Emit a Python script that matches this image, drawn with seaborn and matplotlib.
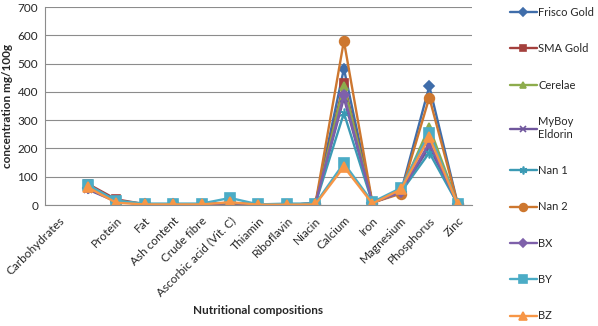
import numpy as np
import pandas as pd
import matplotlib
matplotlib.use("Agg")
import matplotlib.pyplot as plt
import seaborn as sns

categories = ["Carbohydrates", "", "Protein", "Fat", "Ash content", "Crude fibre",
              "Ascorbic acid (Vit. C)", "Thiamin", "Riboflavin", "Niacin",
              "Calcium", "Iron", "Magnesium", "Phosphorus", "Zinc"]

nan = np.nan
frisco_gold = [nan, 60, 15, 3, 2, 1, 8, 0.5, 1, 5, 482, 8, 45, 420, 3]
sma_gold    = [nan, 75, 20, 3, 2, 1, 8, 0.5, 1, 5, 432, 10, 50, 250, 3]
cerelae     = [nan, 65, 15, 3, 2, 0, 5, 0.5, 1, 5, 422, 10, 50, 276, 3]
myboy       = [nan, 55, 12, 3, 2, 1, 8, 0.5, 1, 5, 378, 8, 45, 205, 3]
nan_1       = [nan, 60, 12, 3, 2, 1, 8, 0.5, 1, 5, 325, 8, 45, 185, 3]
nan_2       = [nan, 65, 12, 3, 2, 1, 8, 0.5, 1, 5, 580, 8, 40, 380, 3]
bx          = [nan, 60, 12, 3, 2, 1, 8, 0.5, 1, 5, 390, 8, 45, 220, 3]
by          = [nan, 72, 15, 5, 5, 5, 25, 2, 5, 5, 148, 10, 60, 255, 2]
bz          = [nan, 63, 8, 2, 2, 2, 10, 1, 1, 2, 135, 5, 55, 240, 2]

series_names = ["Frisco Gold", "SMA Gold", "Cerelae", "MyBoy\nEldorin", "Nan 1",
                "Nan 2", "BX", "BY", "BZ"]
series_values = [frisco_gold, sma_gold, cerelae, myboy, nan_1, nan_2, bx, by, bz]
colors = ["#3F6DAA", "#A4403D", "#8DAC4C", "#6F569C", "#3B9AB4",
          "#CD772F", "#7E60AA", "#4BACC6", "#F79646"]
markers = ["D", "s", "^", "x", (6, 2, 0), "o", "D", "s", "^"]
msizes = [5, 6, 6, 6, 7, 7, 5, 7, 7]

sns.set_style("white")
plt.rcParams["font.family"] = ["Lato", "DejaVu Sans"]

fig = plt.figure(figsize=(5.98, 3.26), dpi=100)
ax = fig.add_axes([45 / 598, 1 - 205 / 326, (472 - 45) / 598, (205 - 7) / 326])

x = np.arange(len(categories))
for name, vals, c, m, ms in zip(series_names, series_values, colors, markers, msizes):
    df = pd.DataFrame({"pos": x, "value": vals}).dropna()
    sns.lineplot(data=df, x="pos", y="value", ax=ax, color=c, marker=m,
                 markersize=ms, markeredgecolor=c, markeredgewidth=1.2,
                 linewidth=1.7, label=name, errorbar=None, legend=False)

ax.set_xlim(-0.5, len(categories) - 0.5)
ax.set_ylim(0, 700)
ax.set_yticks(np.arange(0, 701, 100))
ax.set_xticks(x)
ax.set_xticklabels(categories, rotation=45, ha="right", rotation_mode="anchor",
                   fontsize=8.5)
ax.tick_params(axis="y", labelsize=8.5, length=3, color="#8c8c8c", pad=2)
ax.tick_params(axis="x", length=0, pad=7)
ax.yaxis.grid(True, color="#8c8c8c", linewidth=0.8)
ax.xaxis.grid(False)
ax.set_axisbelow(True)

ax.set_ylabel("concentration mg/100g", fontsize=8.5, fontweight="bold", labelpad=3)
ax.set_xlabel("")
fig.text(258 / 598, 1 - 310 / 326, "Nutritional compositions", fontsize=8.5,
         fontweight="bold", ha="center", va="center")

handles = ax.get_lines()[:len(series_names)]
fig.legend(handles, series_names, loc="upper left",
           bbox_to_anchor=(510 / 598, 1 - 7 / 326), frameon=False, fontsize=8,
           labelspacing=2.28, handlelength=2.4, handletextpad=0.15,
           borderaxespad=0, borderpad=0, markerscale=0.8)

# only the left axis line and the zero line are drawn
for side in ["top", "right"]:
    ax.spines[side].set_visible(False)
for side in ["left", "bottom"]:
    ax.spines[side].set_color("#8c8c8c")
    ax.spines[side].set_linewidth(0.8)

fig.savefig("out.png", dpi=100)
